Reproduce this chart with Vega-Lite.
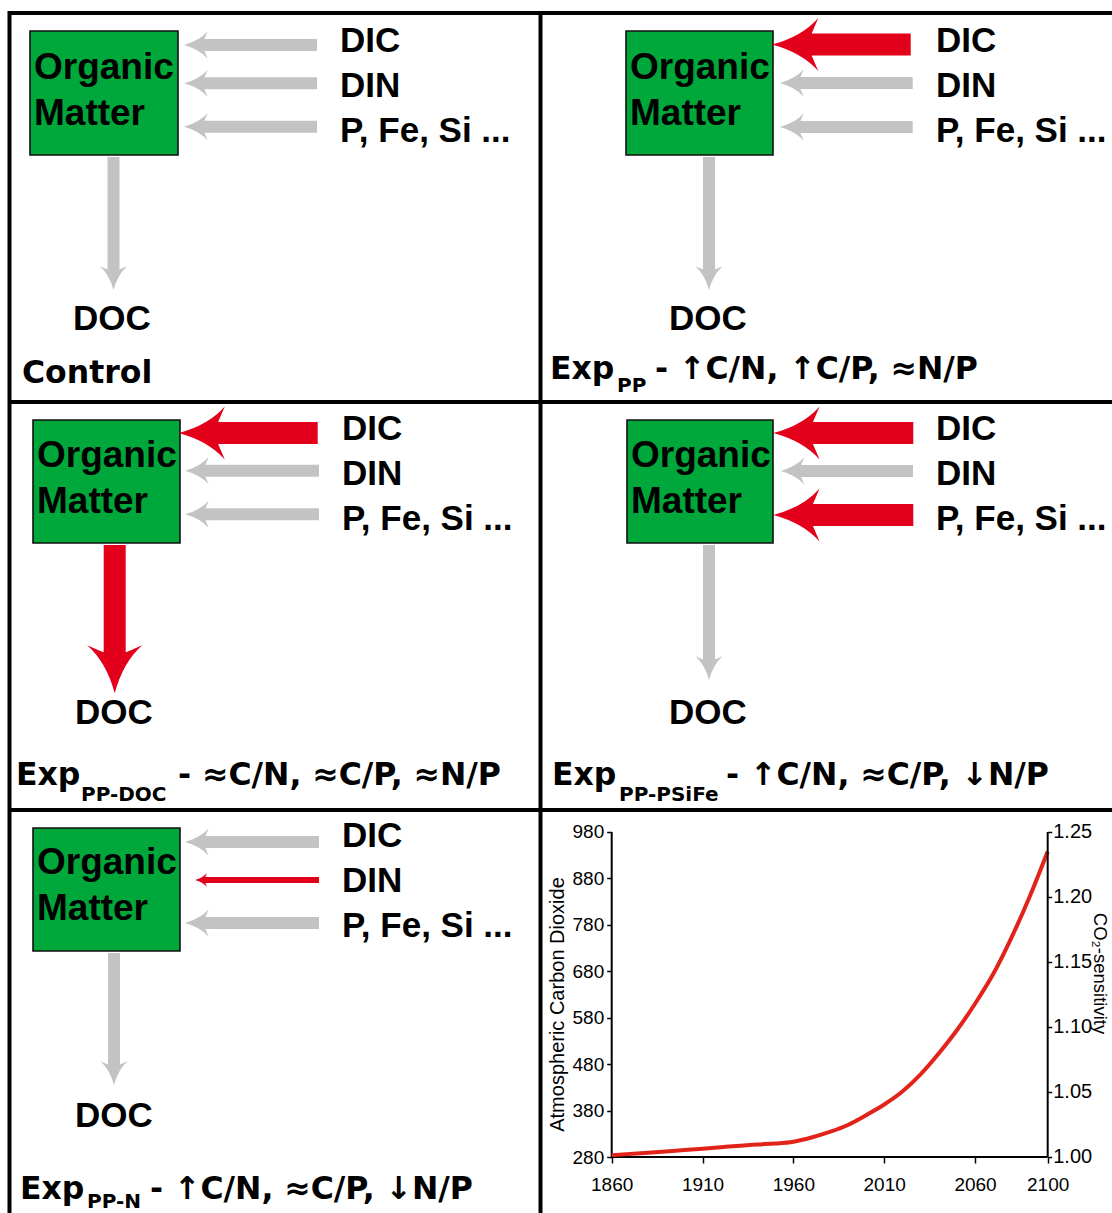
{
  "$schema": "https://vega.github.io/schema/vega-lite/v6.json",
  "width": 1112,
  "height": 1213,
  "autosize": {"type": "none"},
  "padding": 0,
  "background": "white",
  "config": {"view": {"stroke": null}, "axis": {"grid": false}},
  "datasets": {
    "borders": [
      {"x": 8, "x2": 1112, "y": 13, "y2": 13},
      {"x": 9.5, "x2": 9.5, "y": 11, "y2": 1213},
      {"x": 540.5, "x2": 540.5, "y": 11, "y2": 1213},
      {"x": 8, "x2": 1112, "y": 402, "y2": 402},
      {"x": 8, "x2": 1112, "y": 810, "y2": 810}
    ],
    "boxes": [
      {"panel": "Control", "x": 30, "x2": 178, "y": 31, "y2": 155},
      {"panel": "PP", "x": 626, "x2": 773, "y": 31, "y2": 155},
      {"panel": "PP-DOC", "x": 33, "x2": 180, "y": 420, "y2": 543},
      {"panel": "PP-PSiFe", "x": 627, "x2": 773, "y": 420, "y2": 543},
      {"panel": "PP-N", "x": 33, "x2": 180, "y": 828, "y2": 951}
    ],
    "shafts": [
      {"kind": "grey", "x": 317, "x2": 203, "y": 45, "y2": 45},
      {"kind": "grey", "x": 317, "x2": 203, "y": 83.3, "y2": 83.3},
      {"kind": "grey", "x": 317, "x2": 203, "y": 126.7, "y2": 126.7},
      {"kind": "grey", "x": 113.5, "x2": 113.5, "y": 157, "y2": 271},
      {"kind": "red", "x": 910.7, "x2": 809, "y": 44.5, "y2": 44.5},
      {"kind": "grey", "x": 912.7, "x2": 799, "y": 83, "y2": 83},
      {"kind": "grey", "x": 912.7, "x2": 799, "y": 127, "y2": 127},
      {"kind": "grey", "x": 709, "x2": 709, "y": 157, "y2": 271},
      {"kind": "red", "x": 317.7, "x2": 215.5, "y": 433, "y2": 433},
      {"kind": "grey", "x": 319, "x2": 204, "y": 470.7, "y2": 470.7},
      {"kind": "grey", "x": 319, "x2": 204, "y": 514.3, "y2": 514.3},
      {"kind": "red", "x": 114.7, "x2": 114.7, "y": 545, "y2": 655},
      {"kind": "red", "x": 913.3, "x2": 810.3, "y": 433, "y2": 433},
      {"kind": "grey", "x": 913, "x2": 799.7, "y": 471, "y2": 471},
      {"kind": "red", "x": 913.3, "x2": 810.3, "y": 515, "y2": 515},
      {"kind": "grey", "x": 709, "x2": 709, "y": 545, "y2": 661},
      {"kind": "grey", "x": 319, "x2": 204, "y": 842, "y2": 842},
      {"kind": "thin", "x": 319, "x2": 204.6, "y": 880, "y2": 880},
      {"kind": "grey", "x": 319, "x2": 204, "y": 923, "y2": 923},
      {"kind": "grey", "x": 114, "x2": 114, "y": 953, "y2": 1066}
    ],
    "heads": [
      {"kind": "grey", "dir": "left", "x": 184, "y": 45},
      {"kind": "grey", "dir": "left", "x": 184, "y": 83.3},
      {"kind": "grey", "dir": "left", "x": 184, "y": 126.7},
      {"kind": "grey", "dir": "down", "x": 113.5, "y": 290},
      {"kind": "red", "dir": "left", "x": 772, "y": 44.5},
      {"kind": "grey", "dir": "left", "x": 780, "y": 83},
      {"kind": "grey", "dir": "left", "x": 780, "y": 127},
      {"kind": "grey", "dir": "down", "x": 709, "y": 290},
      {"kind": "red", "dir": "left", "x": 178.5, "y": 433},
      {"kind": "grey", "dir": "left", "x": 185, "y": 470.7},
      {"kind": "grey", "dir": "left", "x": 185, "y": 514.3},
      {"kind": "red", "dir": "down", "x": 114.7, "y": 693.3},
      {"kind": "red", "dir": "left", "x": 773.3, "y": 433},
      {"kind": "grey", "dir": "left", "x": 780.7, "y": 471},
      {"kind": "red", "dir": "left", "x": 773.3, "y": 515},
      {"kind": "grey", "dir": "down", "x": 709, "y": 680},
      {"kind": "grey", "dir": "left", "x": 185, "y": 842},
      {"kind": "thin", "dir": "left", "x": 195, "y": 880},
      {"kind": "grey", "dir": "left", "x": 185, "y": 923},
      {"kind": "grey", "dir": "down", "x": 114, "y": 1085}
    ],
    "organic": [
      {"x": 34, "y": 79, "label": "Organic"}, {"x": 34, "y": 125, "label": "Matter"},
      {"x": 630, "y": 79, "label": "Organic"}, {"x": 630, "y": 125, "label": "Matter"},
      {"x": 37, "y": 467, "label": "Organic"}, {"x": 37, "y": 513, "label": "Matter"},
      {"x": 631, "y": 467, "label": "Organic"}, {"x": 631, "y": 513, "label": "Matter"},
      {"x": 37, "y": 874, "label": "Organic"}, {"x": 37, "y": 920, "label": "Matter"}
    ],
    "inputs": [
      {"x": 340, "y": 52.3, "label": "DIC"}, {"x": 340, "y": 97.3, "label": "DIN"}, {"x": 340, "y": 141.7, "label": "P, Fe, Si ..."},
      {"x": 936, "y": 52.3, "label": "DIC"}, {"x": 936, "y": 97.3, "label": "DIN"}, {"x": 936, "y": 141.7, "label": "P, Fe, Si ..."},
      {"x": 342, "y": 440.3, "label": "DIC"}, {"x": 342, "y": 485.3, "label": "DIN"}, {"x": 342, "y": 529.7, "label": "P, Fe, Si ..."},
      {"x": 936, "y": 440.3, "label": "DIC"}, {"x": 936, "y": 485.3, "label": "DIN"}, {"x": 936, "y": 529.7, "label": "P, Fe, Si ..."},
      {"x": 342, "y": 847.3, "label": "DIC"}, {"x": 342, "y": 892.3, "label": "DIN"}, {"x": 342, "y": 936.7, "label": "P, Fe, Si ..."}
    ],
    "doc": [
      {"x": 73, "y": 330, "label": "DOC"},
      {"x": 669, "y": 330, "label": "DOC"},
      {"x": 75, "y": 724, "label": "DOC"},
      {"x": 669, "y": 724, "label": "DOC"},
      {"x": 75, "y": 1127, "label": "DOC"}
    ],
    "titles": [
      {"x": 22, "y": 383, "label": "Control"},
      {"x": 550, "y": 379, "label": "Exp"},
      {"x": 655, "y": 379, "label": "- ↑C/N, ↑C/P, ≈N/P"},
      {"x": 16, "y": 785, "label": "Exp"},
      {"x": 178, "y": 785, "label": "- ≈C/N, ≈C/P, ≈N/P"},
      {"x": 552, "y": 785, "label": "Exp"},
      {"x": 726, "y": 785, "label": "- ↑C/N, ≈C/P, ↓N/P"},
      {"x": 20, "y": 1199, "label": "Exp"},
      {"x": 150, "y": 1199, "label": "- ↑C/N, ≈C/P, ↓N/P"}
    ],
    "subs": [
      {"x": 617, "y": 392, "label": "PP"},
      {"x": 81, "y": 801, "label": "PP-DOC"},
      {"x": 619, "y": 801, "label": "PP-PSiFe"},
      {"x": 87, "y": 1208, "label": "PP-N"}
    ],
    "co2": [
      {"year": 1860, "co2": 284},
      {"year": 1880, "co2": 289},
      {"year": 1900, "co2": 295},
      {"year": 1920, "co2": 301},
      {"year": 1940, "co2": 307},
      {"year": 1950, "co2": 309},
      {"year": 1960, "co2": 313},
      {"year": 1970, "co2": 322},
      {"year": 1980, "co2": 334},
      {"year": 1990, "co2": 349},
      {"year": 2000, "co2": 370},
      {"year": 2010, "co2": 393},
      {"year": 2020, "co2": 421},
      {"year": 2030, "co2": 458},
      {"year": 2040, "co2": 503},
      {"year": 2050, "co2": 553},
      {"year": 2060, "co2": 610},
      {"year": 2070, "co2": 674},
      {"year": 2080, "co2": 752},
      {"year": 2090, "co2": 840},
      {"year": 2100, "co2": 938}
    ],
    "co2axes": [
      {"year": 1860, "year2": 1860, "co2": 280, "co2b": 980},
      {"year": 1860, "year2": 2100, "co2": 280, "co2b": 280}
    ],
    "sensaxis": [
      {"year": 2100, "year2": 2100, "sens": 1.0, "sens2": 1.25}
    ]
  },
  "resolve": {"scale": {"x": "independent", "y": "independent"}, "axis": {"x": "independent", "y": "independent"}},
  "layer": [
    {
      "encoding": {
        "x": {"field": "x", "type": "quantitative", "scale": {"domain": [0, 1112], "range": [0, 1112], "nice": false, "zero": false}, "axis": null},
        "y": {"field": "y", "type": "quantitative", "scale": {"domain": [0, 1213], "range": [0, 1213], "nice": false, "zero": false}, "axis": null}
      },
      "layer": [
        {
          "data": {"name": "borders"},
          "mark": {"type": "rule", "color": "black", "strokeWidth": 4},
          "encoding": {"x2": {"field": "x2"}, "y2": {"field": "y2"}}
        },
        {
          "data": {"name": "boxes"},
          "mark": {"type": "rect", "fill": "#00a83b", "stroke": "#111111", "strokeWidth": 1.6},
          "encoding": {"x2": {"field": "x2"}, "y2": {"field": "y2"}}
        },
        {
          "data": {"name": "shafts"},
          "transform": [{"filter": "datum.kind === 'grey'"}],
          "mark": {"type": "rule", "color": "#c3c3c3", "strokeWidth": 12},
          "encoding": {"x2": {"field": "x2"}, "y2": {"field": "y2"}}
        },
        {
          "data": {"name": "shafts"},
          "transform": [{"filter": "datum.kind === 'red'"}],
          "mark": {"type": "rule", "color": "#e2001a", "strokeWidth": 22},
          "encoding": {"x2": {"field": "x2"}, "y2": {"field": "y2"}}
        },
        {
          "data": {"name": "shafts"},
          "transform": [{"filter": "datum.kind === 'thin'"}],
          "mark": {"type": "rule", "color": "#e2001a", "strokeWidth": 6},
          "encoding": {"x2": {"field": "x2"}, "y2": {"field": "y2"}}
        },
        {
          "data": {"name": "heads"},
          "transform": [{"filter": "datum.kind === 'grey' && datum.dir === 'left'"}],
          "mark": {"type": "point", "filled": true, "opacity": 1, "color": "#c3c3c3", "strokeWidth": 0, "size": 562, "shape": "M0,0 Q1.3,-0.35 2,-1.15 L1.72,-0.5 L1.72,0.5 L2,1.15 Q1.3,0.35 0,0 Z"}
        },
        {
          "data": {"name": "heads"},
          "transform": [{"filter": "datum.kind === 'grey' && datum.dir === 'down'"}],
          "mark": {"type": "point", "filled": true, "opacity": 1, "color": "#c3c3c3", "strokeWidth": 0, "size": 562, "shape": "M0,0 Q-0.35,-1.3 -1.15,-2 L-0.5,-1.72 L0.5,-1.72 L1.15,-2 Q0.35,-1.3 0,0 Z"}
        },
        {
          "data": {"name": "heads"},
          "transform": [{"filter": "datum.kind === 'red' && datum.dir === 'left'"}],
          "mark": {"type": "point", "filled": true, "opacity": 1, "color": "#e2001a", "strokeWidth": 0, "size": 2144, "shape": "M0,0 Q1.3,-0.35 2,-1.15 L1.72,-0.5 L1.72,0.5 L2,1.15 Q1.3,0.35 0,0 Z"}
        },
        {
          "data": {"name": "heads"},
          "transform": [{"filter": "datum.kind === 'red' && datum.dir === 'down'"}],
          "mark": {"type": "point", "filled": true, "opacity": 1, "color": "#e2001a", "strokeWidth": 0, "size": 2304, "shape": "M0,0 Q-0.35,-1.3 -1.15,-2 L-0.5,-1.72 L0.5,-1.72 L1.15,-2 Q0.35,-1.3 0,0 Z"}
        },
        {
          "data": {"name": "heads"},
          "transform": [{"filter": "datum.kind === 'thin'"}],
          "mark": {"type": "point", "filled": true, "opacity": 1, "color": "#e2001a", "strokeWidth": 0, "size": 144, "shape": "M0,0 Q1.3,-0.35 2,-1.15 L1.72,-0.5 L1.72,0.5 L2,1.15 Q1.3,0.35 0,0 Z"}
        },
        {
          "data": {"name": "organic"},
          "mark": {"type": "text", "align": "left", "baseline": "alphabetic", "font": "Liberation Sans", "fontWeight": "bold", "fontSize": 37, "color": "black"},
          "encoding": {"text": {"field": "label"}}
        },
        {
          "data": {"name": "inputs"},
          "mark": {"type": "text", "align": "left", "baseline": "alphabetic", "font": "Liberation Sans", "fontWeight": "bold", "fontSize": 35, "color": "black"},
          "encoding": {"text": {"field": "label"}}
        },
        {
          "data": {"name": "doc"},
          "mark": {"type": "text", "align": "left", "baseline": "alphabetic", "font": "Liberation Sans", "fontWeight": "bold", "fontSize": 35, "color": "black"},
          "encoding": {"text": {"field": "label"}}
        },
        {
          "data": {"name": "titles"},
          "mark": {"type": "text", "align": "left", "baseline": "alphabetic", "font": "DejaVu Sans", "fontWeight": "bold", "fontSize": 31.5, "color": "black"},
          "encoding": {"text": {"field": "label"}}
        },
        {
          "data": {"name": "subs"},
          "mark": {"type": "text", "align": "left", "baseline": "alphabetic", "font": "DejaVu Sans", "fontWeight": "bold", "fontSize": 20, "color": "black"},
          "encoding": {"text": {"field": "label"}}
        }
      ]
    },
    {
      "encoding": {
        "x": {
          "field": "year", "type": "quantitative",
          "scale": {"domain": [1523.28, 2135.4], "range": [0, 1112], "nice": false, "zero": false},
          "axis": {
            "orient": "bottom", "offset": -56, "values": [1860, 1910, 1960, 2010, 2060, 2100], "format": "d",
            "domain": false, "grid": false, "ticks": true, "tickSize": 6, "tickWidth": 1.5, "tickColor": "black",
            "labelFont": "Liberation Sans", "labelFontSize": 19, "labelColor": "black", "labelPadding": 12,
            "labelFlush": false, "labelOverlap": false, "title": null
          }
        }
      },
      "resolve": {"scale": {"y": "independent"}, "axis": {"y": "independent"}},
      "layer": [
        {
          "encoding": {
            "y": {
              "field": "co2", "type": "quantitative",
              "scale": {"domain": [159.4, 2771.9], "range": [1213, 0], "nice": false, "zero": false},
              "axis": {
                "orient": "left", "offset": -611.7, "values": [280, 380, 480, 580, 680, 780, 880, 980],
                "domain": false, "grid": false, "ticks": true, "tickSize": 5, "tickWidth": 1.5, "tickColor": "black",
                "labelFont": "Liberation Sans", "labelFontSize": 19, "labelColor": "black", "labelPadding": 3,
                "labelOverlap": false, "labelFlush": false,
                "title": "Atmospheric Carbon Dioxide", "titleFont": "Liberation Sans", "titleFontWeight": "normal",
                "titleFontSize": 20, "titleColor": "black", "titleX": -48.5, "titleY": 1004, "titleAngle": 270,
                "titleAlign": "center", "titleBaseline": "alphabetic"
              }
            }
          },
          "layer": [
            {
              "data": {"name": "co2axes"},
              "mark": {"type": "rule", "color": "black", "strokeWidth": 2},
              "encoding": {"x2": {"field": "year2"}, "y2": {"field": "co2b"}}
            },
            {
              "data": {"name": "co2"},
              "mark": {"type": "line", "color": "#e2231a", "strokeWidth": 4, "interpolate": "monotone"}
            }
          ]
        },
        {
          "data": {"name": "sensaxis"},
          "mark": {"type": "rule", "color": "black", "strokeWidth": 2},
          "encoding": {
            "x2": {"field": "year2"},
            "y": {
              "field": "sens", "type": "quantitative",
              "scale": {"domain": [0.95692, 1.89], "range": [1213, 0], "nice": false, "zero": false},
              "axis": {
                "orient": "right", "offset": -64.3, "values": [1.0, 1.05, 1.1, 1.15, 1.2, 1.25], "format": ".2f",
                "domain": false, "grid": false, "ticks": true, "tickSize": 4, "tickWidth": 1.5, "tickColor": "black",
                "labelFont": "Liberation Sans", "labelFontSize": 20, "labelColor": "black", "labelPadding": 1,
                "labelOverlap": false, "labelFlush": false,
                "title": "CO₂-sensitivity", "titleFont": "Liberation Sans", "titleFontWeight": "normal",
                "titleFontSize": 18.5, "titleColor": "black", "titleX": 46, "titleY": 973, "titleAngle": 90,
                "titleAlign": "center", "titleBaseline": "alphabetic"
              }
            },
            "y2": {"field": "sens2"}
          }
        }
      ]
    }
  ]
}
